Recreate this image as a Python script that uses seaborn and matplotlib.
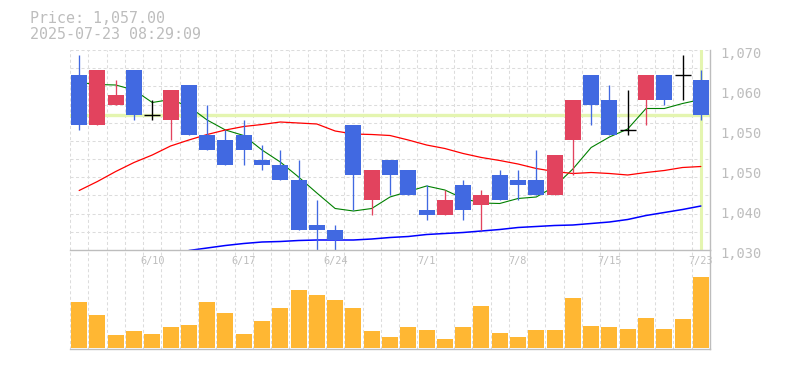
import numpy as np
import pandas as pd
import matplotlib
matplotlib.use("Agg")
import matplotlib.pyplot as plt
import seaborn as sns
from matplotlib.transforms import ScaledTranslation

# ---------------- data ----------------
dates = ['6/4', '6/5', '6/6', '6/9', '6/10', '6/11', '6/12', '6/13', '6/16', '6/17',
         '6/18', '6/19', '6/20', '6/23', '6/24', '6/25', '6/26', '6/27', '6/30', '7/1',
         '7/2', '7/3', '7/4', '7/7', '7/8', '7/9', '7/10', '7/11', '7/14', '7/15',
         '7/16', '7/17', '7/18', '7/22', '7/23']
opens = [1065, 1055, 1059, 1066, 1057, 1056, 1063, 1053, 1052, 1053,
         1048, 1047, 1044, 1035, 1034, 1055, 1040, 1048, 1046, 1038,
         1037, 1043, 1039, 1045, 1044, 1044, 1041, 1052, 1065, 1060,
         1054, 1060, 1065, 1065, 1064]
highs = [1069, 1066, 1064, 1066, 1060, 1062, 1063, 1059, 1054, 1056,
         1051, 1050, 1048, 1040, 1035, 1055, 1046, 1048, 1046, 1043,
         1042, 1044, 1042, 1046, 1046, 1050, 1049, 1060, 1065, 1063,
         1062, 1065, 1065, 1069, 1066]
lows = [1054, 1055, 1059, 1056, 1056, 1052, 1053, 1050, 1047, 1047,
        1046, 1044, 1034, 1029, 1029, 1038, 1037, 1041, 1041, 1036,
        1037, 1036, 1034, 1040, 1040, 1041, 1041, 1045, 1055, 1053,
        1053, 1055, 1059, 1060, 1056]
closes = [1055, 1066, 1061, 1057, 1057, 1062, 1053, 1050, 1047, 1050,
          1047, 1044, 1034, 1034, 1032, 1045, 1046, 1045, 1041, 1037,
          1040, 1038, 1041, 1040, 1043, 1041, 1049, 1060, 1059, 1053,
          1054, 1065, 1060, 1065, 1057]
ma_short = [1063.5, 1063.1, 1063.0, 1062.0, 1059.5, 1060.1, 1058.7, 1056.0, 1054.0, 1052.9,
            1050.0, 1047.6, 1044.6, 1041.4, 1038.3, 1037.8, 1038.3, 1040.6, 1041.7, 1042.8,
            1042.0, 1040.3, 1039.4, 1039.3, 1040.3, 1040.6, 1042.7, 1046.2, 1050.5, 1052.6,
            1054.2, 1058.3, 1058.3, 1059.3, 1060.1]
ma_mid = [1041.9, 1043.7, 1045.7, 1047.5, 1049.0, 1050.8, 1052.0, 1053.1, 1054.0, 1054.7,
          1055.1, 1055.6, 1055.4, 1055.2, 1053.8, 1053.2, 1053.1, 1052.9, 1052.0, 1051.0,
          1050.3, 1049.3, 1048.5, 1047.9, 1047.2, 1046.3, 1045.7, 1045.3, 1045.5, 1045.3,
          1045.0, 1045.5, 1045.9, 1046.5, 1046.7]
ma_long = [np.nan, np.nan, np.nan, np.nan, np.nan, np.nan, 1029.9, 1030.4, 1030.9, 1031.3,
           1031.6, 1031.7, 1031.9, 1032.0, 1032.0, 1032.0, 1032.2, 1032.5, 1032.7, 1033.1,
           1033.3, 1033.5, 1033.8, 1034.1, 1034.5, 1034.7, 1034.9, 1035.0, 1035.3, 1035.6,
           1036.1, 1036.9, 1037.5, 1038.1, 1038.8]
volumes = [4570, 3270, 1270, 1670, 1370, 2070, 2270, 4570, 3470, 1370,
           2670, 3970, 5770, 5270, 4770, 3970, 1670, 1070, 2070, 1770,
           870, 2070, 4170, 1470, 1070, 1770, 1770, 4970, 2170, 2070,
           1870, 2970, 1870, 2870, 7100]
current_price = 1057
price_title = "Price: 1,057.00"
timestamp = "2025-07-23 08:29:09"
date_ticks = ['6/10', '6/17', '6/24', '7/1', '7/8', '7/15', '7/23']
price_ticks = [1030, 1038, 1046, 1054, 1062, 1070]
price_tick_labels = ['1,030', '1,040', '1,050', '1,050', '1,060', '1,070']

# ---------------- style ----------------
sns.set_style("white")
plt.rcParams['font.family'] = ['DejaVu Sans Mono', 'DejaVu Sans']

UP = '#E2435E'
DOWN = '#4169E1'
VOL = '#FFB733'
GRID = '#DCDCDC'
AXC = '#BDBDBD'
TXT = '#BDBDBD'
HILITE = '#E4F5B0'

W, H = 785, 370
fig = plt.figure(figsize=(W / 100, H / 100), dpi=100)


def rect(l, t, r, b):
    return [l / W, 1 - b / H, (r - l) / W, (b - t) / H]


ax = fig.add_axes(rect(70, 50, 710, 250))
axv = fig.add_axes(rect(70, 250, 710, 349.3))
axv.patch.set_alpha(0)

df = pd.DataFrame(dict(i=np.arange(len(dates)), date=dates, o=opens, h=highs,
                       l=lows, c=closes, ma5=ma_short, ma25=ma_mid, ma75=ma_long,
                       vol=volumes))

# ---------------- main panel ----------------
ax.set_xlim(-0.5, len(dates) - 0.5)
ax.set_ylim(1030, 1070)

dash = (0, (2.9, 2.4))
for k in np.arange(-0.5, len(dates), 1.0):
    ax.axvline(k, color=GRID, lw=0.75, ls=dash, zorder=0)
    axv.axvline(k, color=GRID, lw=0.75, ls=dash, zorder=0)
for v in np.linspace(1030, 1070, 12)[1:]:
    ax.axhline(v, color=GRID, lw=0.75, ls=dash, zorder=0)

ax.axhline(current_price, color=HILITE, lw=2.4, zorder=1)
ax.axvline(df['i'].iloc[-1], color=HILITE, lw=2.2, zorder=1)

sns.lineplot(data=df, x='i', y='ma5', ax=ax, color='#008000', lw=0.8, zorder=2, estimator=None)
sns.lineplot(data=df, x='i', y='ma25', ax=ax, color='#FF0000', lw=0.9, zorder=2, estimator=None)
sns.lineplot(data=df.dropna(subset=['ma75']), x='i', y='ma75', ax=ax, color='#0000FF',
             lw=1.1, zorder=2, estimator=None)

bw = 0.87
up = df[df.c > df.o]
dn = df[df.c < df.o]
dj = df[df.c == df.o]
ax.vlines(up.i, up.l, up.h, color=UP, lw=0.95, zorder=4)
ax.bar(up.i, up.c - up.o, bottom=up.o, width=bw, color=UP, zorder=5, linewidth=0)
ax.vlines(dn.i, dn.l, dn.h, color=DOWN, lw=0.95, zorder=4)
ax.bar(dn.i, dn.o - dn.c, bottom=dn.c, width=bw, color=DOWN, zorder=5, linewidth=0)
ax.vlines(dj.i, dj.l, dj.h, color='black', lw=1.0, zorder=5)
ax.hlines(dj.c, dj.i - bw / 2, dj.i + bw / 2, color='black', lw=1.0, zorder=5)

ax.set_xlabel('')
ax.set_ylabel('')
tick_pos = [dates.index(d) for d in date_ticks]
ax.set_xticks(tick_pos)
ax.set_xticklabels(date_ticks)
ax.tick_params(axis='x', length=0, pad=4.5, labelsize=7.4, labelcolor=TXT)
ax.yaxis.tick_right()
ax.set_yticks(price_ticks)
ax.set_yticklabels(price_tick_labels)
ax.tick_params(axis='y', length=0, pad=7.5, labelsize=9.9, labelcolor=TXT)
off = ScaledTranslation(0, -2.5 / 100, fig.dpi_scale_trans)
for lab in ax.get_yticklabels():
    lab.set_transform(lab.get_transform() + off)
for s in ['left', 'top']:
    ax.spines[s].set_visible(False)
for s in ['right', 'bottom']:
    ax.spines[s].set_color(AXC)
    ax.spines[s].set_linewidth(1.0)
    ax.spines[s].set_zorder(6)

# ---------------- volume panel ----------------
sns.barplot(data=df, x='i', y='vol', ax=axv, color=VOL, width=bw, native_scale=True,
            saturation=1, linewidth=0, zorder=3)
axv.set_xlim(-0.5, len(dates) - 0.5)
axv.set_ylim(-160, 9770)
axv.set_xticks([])
axv.set_yticks([])
axv.set_xlabel('')
axv.set_ylabel('')
for s in ['left', 'top']:
    axv.spines[s].set_visible(False)
for s in ['right', 'bottom']:
    axv.spines[s].set_color(AXC)
    axv.spines[s].set_linewidth(1.0)

# ---------------- header text ----------------
fig.text(29.5 / W, 1 - 23.3 / H, price_title, fontsize=10.8, color=TXT, va='baseline')
fig.text(29.5 / W, 1 - 38.6 / H, timestamp, fontsize=10.8, color=TXT, va='baseline')

fig.savefig('out.png', dpi=100)
